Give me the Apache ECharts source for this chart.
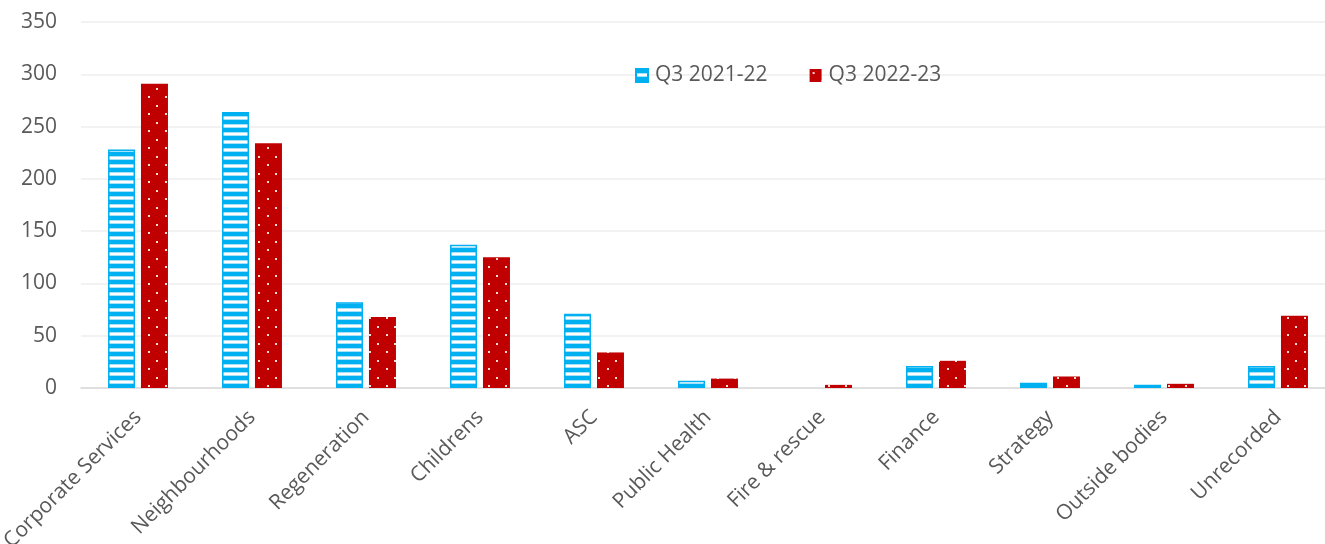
<!DOCTYPE html>
<html>
<head>
<meta charset="utf-8">
<script src="https://cdn.jsdelivr.net/npm/echarts@6/dist/echarts.min.js"></script>
<style>
  html, body { margin: 0; padding: 0; background: #fff; }
  #chart { width: 1325px; height: 544px; }
</style>
</head>
<body>
<div id="chart"></div>
<script>
// Directorates and counts per quarter
const categories = ['Corporate Services', 'Neighbourhoods', 'Regeneration', 'Childrens', 'ASC',
  'Public Health', 'Fire & rescue', 'Finance', 'Strategy', 'Outside bodies', 'Unrecorded'];
const seriesNames = ['Q3 2021-22', 'Q3 2022-23'];
const q3_2021_22 = [228, 264, 82, 137, 71, 7, 0, 21, 5, 3, 21];
const q3_2022_23 = [291, 234, 68, 125, 34, 9, 3, 26, 11, 4, 69];
const yTicks = { min: 0, max: 350, interval: 50 };

// Horizontal stripe fill (blue with white bands)
function stripePattern() {
  const c = document.createElement('canvas');
  c.width = 4; c.height = 8;
  const g = c.getContext('2d');
  g.fillStyle = '#00B0F0'; g.fillRect(0, 0, 4, 8);
  g.fillStyle = '#a8e2f8'; g.fillRect(0, 4, 4, 1); g.fillRect(0, 7, 4, 1);
  g.fillStyle = '#ffffff'; g.fillRect(0, 5, 4, 2);
  return c;
}
// Dark red fill with a staggered grid of small white dots
function dotPattern() {
  const c = document.createElement('canvas');
  c.width = 17; c.height = 17;
  const g = c.getContext('2d');
  g.fillStyle = '#C00000'; g.fillRect(0, 0, 17, 17);
  g.fillStyle = '#f4d0d0';
  g.fillRect(3, 3, 2, 2); g.fillRect(12, 11, 2, 2);
  g.fillStyle = '#ffffff';
  g.fillRect(3.5, 3.5, 1, 1); g.fillRect(12.5, 11.5, 1, 1);
  return c;
}

const stripes = { image: stripePattern(), repeat: 'repeat' };
const dots = { image: dotPattern(), repeat: 'repeat' };

// Zero-height bars get no outline so nothing is drawn for them
const blueData = q3_2021_22.map(v => ({
  value: v,
  itemStyle: { borderWidth: v > 0 ? 1.5 : 0 }
}));

const chart = echarts.init(document.getElementById('chart'), null, { renderer: 'canvas' });
const font = '"Open Sans", "Liberation Sans", sans-serif';

chart.setOption({
  animation: false,
  // plot area is a little wider than the canvas; its right end is cut off
  grid: {
    left: 81, width: 1254, top: 22, height: 366,
    containLabel: false, outerBoundsMode: 'none'
  },
  legend: {
    data: seriesNames.map(n => ({ name: n, icon: 'rect' })),
    left: 630, top: 60,
    itemWidth: 12, itemHeight: 13, itemGap: 42,
    textStyle: { fontFamily: font, fontSize: 21, color: '#595959', padding: [0, 0, 0, 2] }
  },
  xAxis: {
    type: 'category',
    data: categories,
    axisTick: { show: false },
    axisLine: { lineStyle: { color: '#d9d9d9', width: 1.5 } },
    axisLabel: {
      rotate: 45, margin: 26, interval: 0,
      fontFamily: font, fontSize: 21, color: '#595959'
    }
  },
  yAxis: {
    type: 'value',
    min: yTicks.min, max: yTicks.max, interval: yTicks.interval,
    axisLine: { show: false },
    axisTick: { show: false },
    splitLine: { lineStyle: { color: '#eeeeee', width: 1.5 } },
    axisLabel: { margin: 24, fontFamily: font, fontSize: 21, color: '#595959' }
  },
  series: [
    {
      name: seriesNames[0], type: 'bar', data: blueData,
      barWidth: 27, barGap: '22%',
      itemStyle: { color: stripes, borderColor: '#00B0F0', borderWidth: 1.5 }
    },
    {
      name: seriesNames[1], type: 'bar', data: q3_2022_23,
      barWidth: 27, barGap: '22%',
      itemStyle: { color: dots }
    }
  ]
});
</script>
</body>
</html>
